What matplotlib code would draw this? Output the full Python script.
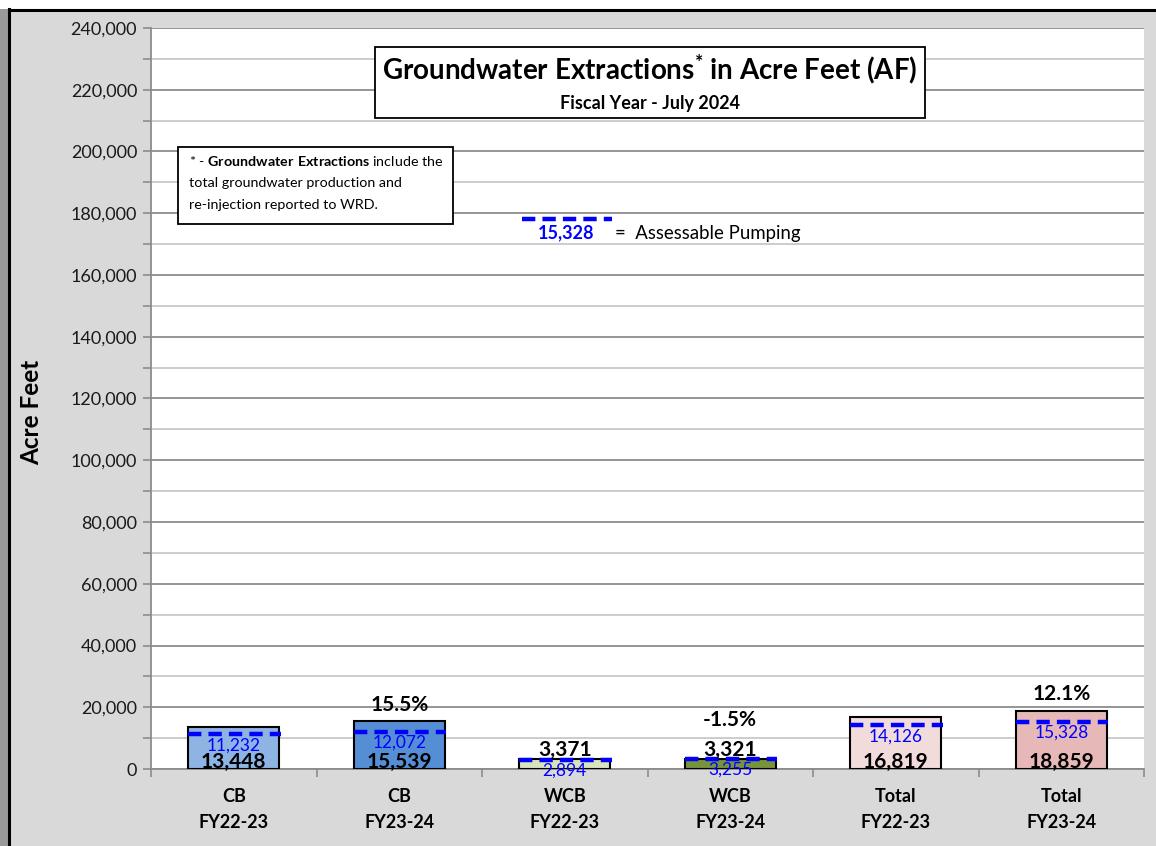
import numpy as np
import matplotlib.pyplot as plt
from matplotlib.patches import Rectangle
from matplotlib.lines import Line2D
from matplotlib.ticker import FuncFormatter, MultipleLocator

plt.rcParams['font.family'] = ['Lato', 'DejaVu Sans']
plt.rcParams['mathtext.fontset'] = 'custom'
plt.rcParams['mathtext.rm'] = 'Lato'
plt.rcParams['mathtext.bf'] = 'Lato:bold'

basins = ['CB', 'CB', 'WCB', 'WCB', 'Total', 'Total']
years = ['FY22-23', 'FY23-24', 'FY22-23', 'FY23-24', 'FY22-23', 'FY23-24']
extractions = [13448, 15539, 3371, 3321, 16819, 18859]
assessable = [11232, 12072, 2894, 3255, 14126, 15328]
pct_change = ['', '15.5%', '', '-1.5%', '', '12.1%']
bar_colors = ['#8db4e2', '#558ed5', '#d7e4bd', '#77933c', '#f2dcdb', '#e6b9b8']
legend_value = 15328

W, H = 1156, 846
fig = plt.figure(figsize=(W / 100, H / 100), dpi=100, facecolor='#d9d9d9')

# outer frame like the excel screenshot
fig.add_artist(Rectangle((0, 0), 8 / W, 1, transform=fig.transFigure, fc='#9a9a9a', ec='none'))
fig.add_artist(Rectangle((0, 1 - 9 / H), 1, 9 / H, transform=fig.transFigure, fc='white', ec='none'))
fig.add_artist(Line2D([9 / W, 9 / W], [0, 1 - 9 / H], transform=fig.transFigure, color='black', lw=2.2))
fig.add_artist(Line2D([9 / W, 1], [1 - 10 / H, 1 - 10 / H], transform=fig.transFigure, color='black', lw=2.2))

ax = fig.add_axes([151 / W, 1 - 769 / H, (1144 - 151) / W, (769 - 28) / H])
ax.set_facecolor('white')

x = np.arange(len(extractions)) + 0.5
bw = 0.55
ax.bar(x, extractions, width=bw, color=bar_colors, edgecolor='black', linewidth=1.5, zorder=3)
for xi, a in zip(x, assessable):
    ax.plot([xi - bw / 2, xi + bw / 2 + 0.01], [a, a], color='#0000ff', lw=3.2,
            linestyle=(0, (3, 1.6)), zorder=4, solid_capstyle='butt')

for xi, v, a, p in zip(x, extractions, assessable, pct_change):
    inside = v > 10000
    ax.annotate(f'{a:,}', (xi, a), xytext=(0, -11.5), textcoords='offset points',
                ha='center', va='baseline', color='#0000ff', fontsize=12.5, zorder=5,
                annotation_clip=False)
    if inside:
        ax.annotate(f'{v:,}', (xi, 0), xytext=(0, 0.5), textcoords='offset points',
                    ha='center', va='baseline', fontsize=15, fontweight='bold', zorder=5)
        pct_off = 7.5
    else:
        ax.annotate(f'{v:,}', (xi, v), xytext=(0, 2), textcoords='offset points',
                    ha='center', va='baseline', fontsize=15, fontweight='bold', zorder=5)
        pct_off = 23.5
    if p:
        ax.annotate(p, (xi, v), xytext=(0, pct_off), textcoords='offset points',
                    ha='center', va='baseline', fontsize=15, fontweight='bold', zorder=5)

ax.set_xlim(0, 6)
ax.set_ylim(0, 240000)
ax.yaxis.set_major_locator(MultipleLocator(20000))
ax.yaxis.set_minor_locator(MultipleLocator(10000))
ax.yaxis.set_major_formatter(FuncFormatter(lambda v, _: f'{int(v):,}'))
ax.grid(which='major', axis='y', color='#8c8c8c', lw=1.3, zorder=0)
ax.grid(which='minor', axis='y', color='#c8c8c8', lw=1.3, zorder=0)
ax.tick_params(axis='y', which='both', length=6, width=1.2, color='#8c8c8c', labelsize=13, pad=4,
               labelcolor='#1a1a1a')

ax.set_xticks(np.arange(7))
ax.set_xticklabels([])
ax.set_xticks(x, minor=True)
ax.set_xticklabels([f'{b}\n{y}' for b, y in zip(basins, years)], minor=True,
                   fontsize=13, fontweight='bold', linespacing=1.6)
ax.tick_params(axis='x', which='major', length=6, width=1.2, color='#8c8c8c')
ax.tick_params(axis='x', which='minor', length=0, pad=14)

for s in ['top', 'right']:
    ax.spines[s].set_visible(False)
for s in ['left', 'bottom']:
    ax.spines[s].set_color('#8c8c8c')
    ax.spines[s].set_linewidth(1.3)

fig.text(32 / W, 1 - 412 / H, 'Acre Feet', rotation=90, ha='center', va='center',
         fontsize=17.5, fontweight='bold')

# title box
fig.add_artist(Rectangle((375 / W, 1 - 118 / H), 550 / W, 71 / H, transform=fig.transFigure,
                         fc='white', ec='black', lw=1.3, zorder=6))
fig.text(650 / W, 1 - 69 / H, r'Groundwater Extractions$^{\mathbf{*}}$ in Acre Feet (AF)',
         ha='center', va='center', fontsize=20, fontweight='bold', zorder=7)
fig.text(650 / W, 1 - 103 / H, 'Fiscal Year - July 2024', ha='center', va='center',
         fontsize=13, fontweight='bold', zorder=7)

# footnote box
fig.add_artist(Rectangle((178 / W, 1 - 224 / H), 275 / W, 77 / H, transform=fig.transFigure,
                         fc='white', ec='black', lw=1.3, zorder=6))
fig.text(189 / W, 1 - 161 / H, r'* - $\mathbf{Groundwater\ Extractions}$ include the',
         ha='left', va='center', fontsize=10.3, zorder=7)
fig.text(189 / W, 1 - 183 / H, 'total groundwater production and',
         ha='left', va='center', fontsize=10.3, zorder=7)
fig.text(189 / W, 1 - 205 / H, 're-injection reported to WRD.',
         ha='left', va='center', fontsize=10.3, zorder=7)

# legend for the dashed line
fig.add_artist(Line2D([522 / W, 612 / W], [1 - 219 / H, 1 - 219 / H], transform=fig.transFigure,
                      color='#0000ff', lw=3.2, linestyle=(0, (3, 1.6))))
fig.text(566 / W, 1 - 233 / H, f'{legend_value:,}', ha='center', va='center',
         fontsize=13, fontweight='bold', color='#0000ff')
fig.text(615 / W, 1 - 233 / H, '=  Assessable Pumping', ha='left', va='center', fontsize=13.4)

fig.savefig('out.png', dpi=100, facecolor=fig.get_facecolor())
